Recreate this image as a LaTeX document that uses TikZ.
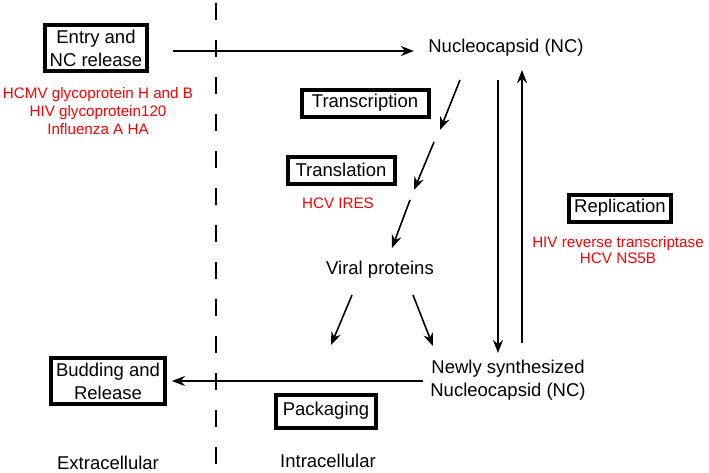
\documentclass[tikz,border=0pt]{standalone}
\usepackage{fontspec}
\setmainfont{Liberation Sans}
\usetikzlibrary{arrows.meta}

\begin{document}
\begin{tikzpicture}[x=1pt,y=-1pt,
    every node/.style={font=\fontsize{18.5}{23}\selectfont,align=center},
    stagebox/.style={draw,line width=4pt,inner xsep=5pt,inner ysep=4.5pt,minimum height=27pt},
    inhib/.style={text=red,font=\fontsize{15.2}{18.3}\selectfont},
    flow/.style={line width=1.6pt,-{Stealth[length=13pt,width=10pt]}}]
    \useasboundingbox (0,0) rectangle (709,472);
    \draw[line width=1.8pt,dash pattern=on 17pt off 20pt] (216,3) -- (216,465);

    \node[stagebox] (entry) at (96,48) {Entry and\\NC release};
    \node[inhib] (entryinh) at (98,111) {HCMV glycoprotein H and B\\HIV glycoprotein120\\Influenza A HA};
    \node (nc) at (506,48) {Nucleocapsid (NC)};
    \node[stagebox,minimum width=127pt] (transcr) at (365,103) {Transcription};
    \node[stagebox,minimum width=107pt] (transl) at (341,170) {Translation};
    \node[inhib] (translinh) at (338,203) {HCV IRES};
    \node (viral) at (380,270) {Viral proteins};
    \node[stagebox] (repl) at (620,208) {Replication};
    \node[inhib,font=\fontsize{15.2}{16.7}\selectfont] (replinh) at (618,250) {HIV reverse transcriptase\\HCV NS5B};
    \node (newnc) at (508,380) {Newly synthesized\\Nucleocapsid (NC)};
    \node[stagebox] (budding) at (108,381) {Budding and\\Release};
    \node[stagebox,minimum width=100pt,minimum height=33pt] (packaging) at (326,411) {Packaging};
    \node (extra) at (108,463) {Extracellular};
    \node (intra) at (328,461) {Intracellular};

    \coordinate (nc1) at (460,80);
    \coordinate (nc2) at (440,130);
    \coordinate (nc3) at (434,142);
    \coordinate (nc4) at (414,190);
    \coordinate (nc5) at (410,200);
    \coordinate (nc6) at (392,248);
    \coordinate (vp1) at (352,295);
    \coordinate (vp2) at (331,345);
    \coordinate (vp3) at (413,295);
    \coordinate (vp4) at (433,346);
    \coordinate (down1) at (498,80);
    \coordinate (down2) at (498,353);
    \coordinate (up1) at (522,343);
    \coordinate (up2) at (522,70);

    \draw[flow,shorten <=24pt,shorten >=11pt] ([yshift=-3pt]entry.east) -- ([yshift=-3pt]nc.west);
    \draw[flow] (nc1) -- (nc2);
    \draw[flow] (nc3) -- (nc4);
    \draw[flow] (nc5) -- (nc6);
    \draw[flow] (vp1) -- (vp2);
    \draw[flow] (vp3) -- (vp4);
    \draw[flow] (down1) -- (down2);
    \draw[flow] (up1) -- (up2);
    \draw[flow,shorten <=4pt,shorten >=5pt] ([yshift=-1pt]newnc.west) -- (budding.east);
\end{tikzpicture}
\end{document}
